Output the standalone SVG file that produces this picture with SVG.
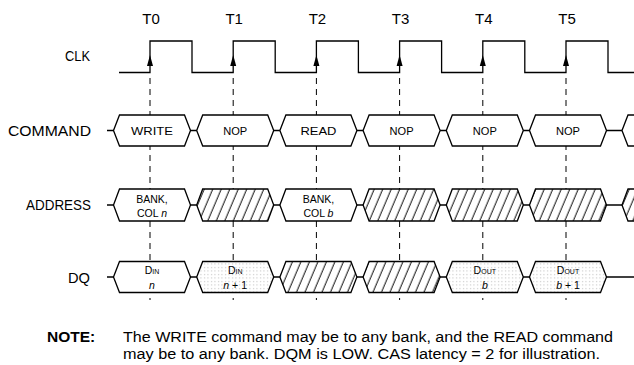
<svg xmlns="http://www.w3.org/2000/svg" width="634" height="365" viewBox="0 0 634 365">
<style>
.lbl{font-family:"Liberation Sans",Arial,sans-serif;font-size:15px;fill:#000}
.note{font-family:"Liberation Sans",Arial,sans-serif;font-size:15.5px;fill:#000}
.box{fill:#fff;stroke:#000;stroke-width:1.3}
.hatch{fill:url(#hatch);stroke:#000;stroke-width:1.3}
.dot{fill:url(#dots);stroke:#000;stroke-width:1.3}
.bt{font-family:"Liberation Sans",Arial,sans-serif;font-size:11.5px;text-anchor:middle;fill:#000}
.st{font-family:"Liberation Sans",Arial,sans-serif;font-size:10.5px;text-anchor:middle;fill:#000}
.wire{stroke:#000;stroke-width:1.3;fill:none}
.guide{stroke:#000;stroke-width:1;stroke-dasharray:6 5;fill:none}
.arr{fill:#000}
</style>
<defs>
<pattern id="hatch" patternUnits="userSpaceOnUse" width="8.5" height="10" patternTransform="skewX(-23)">
<rect x="-1" y="-1" width="10.5" height="12" fill="#fff"/>
<line x1="4" y1="-1" x2="4" y2="11" stroke="#000" stroke-width="1"/>
</pattern>
<pattern id="dots" patternUnits="userSpaceOnUse" width="3.5" height="3.5">
<rect width="3.5" height="3.5" fill="#fff"/>
<rect x="1" y="1" width="1" height="1" fill="#b5b5b5"/>
</pattern>
</defs>
<rect width="634" height="365" fill="#fff"/>

<g id="time-labels" class="lbl" text-anchor="middle">
<text x="151" y="24">T0</text>
<text x="234.2" y="24">T1</text>
<text x="317.4" y="24">T2</text>
<text x="400.6" y="24">T3</text>
<text x="483.8" y="24">T4</text>
<text x="567" y="24">T5</text>
</g>

<g id="signal-labels" class="lbl">
<text x="65" y="60.5" textLength="25" lengthAdjust="spacingAndGlyphs">CLK</text>
<text x="8" y="136" textLength="83" lengthAdjust="spacingAndGlyphs">COMMAND</text>
<text x="26" y="210" textLength="65" lengthAdjust="spacingAndGlyphs">ADDRESS</text>
<text x="68" y="283" textLength="22" lengthAdjust="spacingAndGlyphs">DQ</text>
</g>

<g id="guides" class="guide">
<line x1="150" y1="78" x2="150" y2="300"/>
<line x1="233.2" y1="78" x2="233.2" y2="300"/>
<line x1="316.4" y1="78" x2="316.4" y2="300"/>
<line x1="399.6" y1="78" x2="399.6" y2="300"/>
<line x1="482.8" y1="78" x2="482.8" y2="300"/>
<line x1="566" y1="78" x2="566" y2="300"/>
</g>

<g id="clk">
<path class="wire" d="M119,72.5 H150 V41 H192 V72.5 H233.2 V41 H275.2 V72.5 H316.4 V41 H358.4 V72.5 H399.6 V41 H441.6 V72.5 H482.8 V41 H524.8 V72.5 H566 V41 H608 V72.5 H634"/>
<polygon class="arr" points="150,55 147,66 153,66"/>
<polygon class="arr" points="233.2,55 230.2,66 236.2,66"/>
<polygon class="arr" points="316.4,55 313.4,66 319.4,66"/>
<polygon class="arr" points="399.6,55 396.6,66 402.6,66"/>
<polygon class="arr" points="482.8,55 479.8,66 485.8,66"/>
<polygon class="arr" points="566,55 563,66 569,66"/>
</g>

<g id="connectors" class="wire">
<line x1="107" y1="130.5" x2="622" y2="130.5"/>
<line x1="107" y1="205" x2="622" y2="205"/>
<line x1="107" y1="277" x2="634" y2="277"/>
</g>

<g id="command">
<g id="cmd-t0"><polygon class="box" points="113.5,130.5 119.5,115 184.5,115 190.5,130.5 184.5,146 119.5,146"/><text class="bt" x="152" y="134.5" textLength="42" lengthAdjust="spacingAndGlyphs">WRITE</text></g>
<g id="cmd-t1"><polygon class="box" points="196.7,130.5 202.7,115 267.7,115 273.7,130.5 267.7,146 202.7,146"/><text class="bt" x="235.2" y="134.5" textLength="24" lengthAdjust="spacingAndGlyphs">NOP</text></g>
<g id="cmd-t2"><polygon class="box" points="279.9,130.5 285.9,115 350.9,115 356.9,130.5 350.9,146 285.9,146"/><text class="bt" x="318.4" y="134.5" textLength="36" lengthAdjust="spacingAndGlyphs">READ</text></g>
<g id="cmd-t3"><polygon class="box" points="363.1,130.5 369.1,115 434.1,115 440.1,130.5 434.1,146 369.1,146"/><text class="bt" x="401.6" y="134.5" textLength="24" lengthAdjust="spacingAndGlyphs">NOP</text></g>
<g id="cmd-t4"><polygon class="box" points="446.3,130.5 452.3,115 517.3,115 523.3,130.5 517.3,146 452.3,146"/><text class="bt" x="484.8" y="134.5" textLength="24" lengthAdjust="spacingAndGlyphs">NOP</text></g>
<g id="cmd-t5"><polygon class="box" points="529.5,130.5 535.5,115 600.5,115 606.5,130.5 600.5,146 535.5,146"/><text class="bt" x="568" y="134.5" textLength="24" lengthAdjust="spacingAndGlyphs">NOP</text></g>
<g id="cmd-t6"><polygon class="box" points="622,130.5 628,115 700,115 700,146 628,146"/></g>
</g>

<g id="address">
<g id="addr-t0"><polygon class="box" points="113.5,205 119.5,189 184.5,189 190.5,205 184.5,221 119.5,221"/><text class="st" x="152" y="202.5">BANK,</text><text class="st" x="152" y="216.5">COL <tspan font-style="italic">n</tspan></text></g>
<g id="addr-t1"><polygon class="hatch" points="196.7,205 202.7,189 267.7,189 273.7,205 267.7,221 202.7,221"/></g>
<g id="addr-t2"><polygon class="box" points="279.9,205 285.9,189 350.9,189 356.9,205 350.9,221 285.9,221"/><text class="st" x="318.4" y="202.5">BANK,</text><text class="st" x="318.4" y="216.5">COL <tspan font-style="italic">b</tspan></text></g>
<g id="addr-t3"><polygon class="hatch" points="363.1,205 369.1,189 434.1,189 440.1,205 434.1,221 369.1,221"/></g>
<g id="addr-t4"><polygon class="hatch" points="446.3,205 452.3,189 517.3,189 523.3,205 517.3,221 452.3,221"/></g>
<g id="addr-t5"><polygon class="hatch" points="529.5,205 535.5,189 600.5,189 606.5,205 600.5,221 535.5,221"/></g>
<g id="addr-t6"><polygon class="hatch" points="622,205 628,189 700,189 700,221 628,221"/></g>
</g>

<g id="dq">
<g id="dq-t0"><polygon class="box" points="113.5,277 119.5,261.5 184.5,261.5 190.5,277 184.5,292.5 119.5,292.5"/><text class="st" x="152" y="274"><tspan font-size="10.5">D</tspan><tspan font-size="7">IN</tspan></text><text class="st" x="152" y="288.5" font-style="italic">n</text></g>
<g id="dq-t1"><polygon class="dot" points="196.7,277 202.7,261.5 267.7,261.5 273.7,277 267.7,292.5 202.7,292.5"/><text class="st" x="235.2" y="274"><tspan font-size="10.5">D</tspan><tspan font-size="7">IN</tspan></text><text class="st" x="235.2" y="288.5"><tspan font-style="italic">n</tspan> + 1</text></g>
<g id="dq-t2"><polygon class="hatch" points="279.9,277 285.9,261.5 350.9,261.5 356.9,277 350.9,292.5 285.9,292.5"/></g>
<g id="dq-t3"><polygon class="hatch" points="363.1,277 369.1,261.5 434.1,261.5 440.1,277 434.1,292.5 369.1,292.5"/></g>
<g id="dq-t4"><polygon class="dot" points="446.3,277 452.3,261.5 517.3,261.5 523.3,277 517.3,292.5 452.3,292.5"/><text class="st" x="484.8" y="274"><tspan font-size="10.5">D</tspan><tspan font-size="7">OUT</tspan></text><text class="st" x="484.8" y="288.5" font-style="italic">b</text></g>
<g id="dq-t5"><polygon class="dot" points="529.5,277 535.5,261.5 600.5,261.5 606.5,277 600.5,292.5 535.5,292.5"/><text class="st" x="568" y="274"><tspan font-size="10.5">D</tspan><tspan font-size="7">OUT</tspan></text><text class="st" x="568" y="288.5"><tspan font-style="italic">b</tspan> + 1</text></g>
</g>

<g id="note">
<text class="note" x="47" y="341.5" font-weight="bold">NOTE:</text>
<text class="note" x="123" y="341.5" textLength="490" lengthAdjust="spacingAndGlyphs">The WRITE command may be to any bank, and the READ command</text>
<text class="note" x="123" y="358.5" textLength="477" lengthAdjust="spacingAndGlyphs">may be to any bank. DQM is LOW. CAS latency = 2 for illustration.</text>
</g>
</svg>
